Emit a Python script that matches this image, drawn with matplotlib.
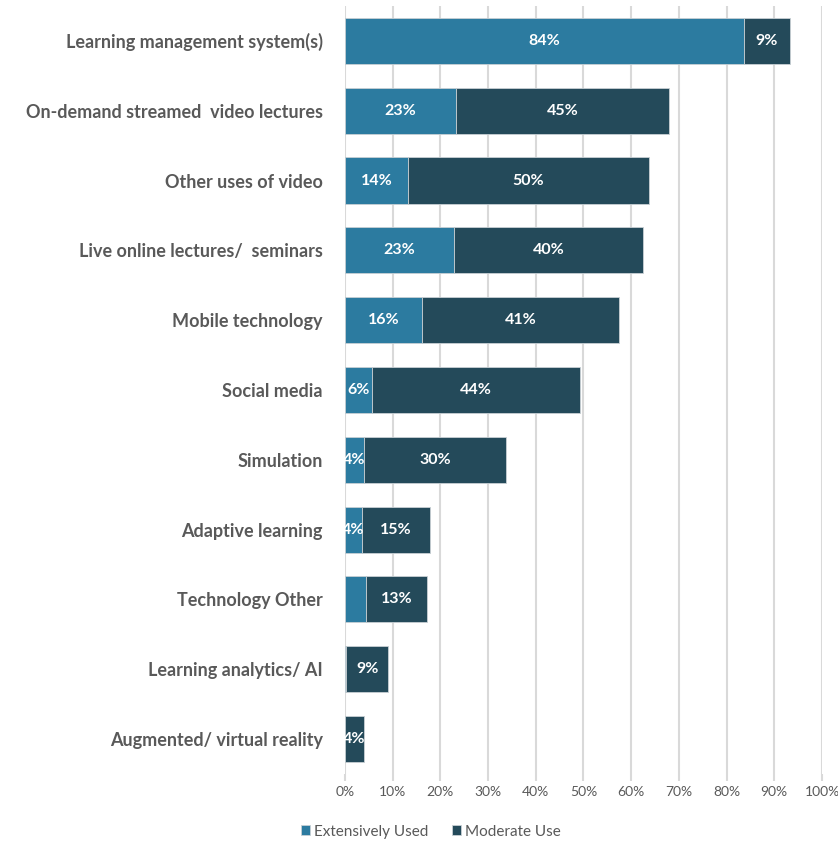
import matplotlib.pyplot as plt

plt.rcParams['font.family'] = ['Lato', 'DejaVu Sans']

categories = [
    'Learning management system(s)',
    'On-demand streamed  video lectures',
    'Other uses of video',
    'Live online lectures/  seminars',
    'Mobile technology',
    'Social media',
    'Simulation',
    'Adaptive learning',
    'Technology Other',
    'Learning analytics/ AI',
    'Augmented/ virtual reality',
]
extensive = [83.6, 23.3, 13.3, 22.9, 16.1, 5.7, 4.0, 3.6, 4.4, 0.3, 0.0]
moderate = [9.7, 44.6, 50.4, 39.6, 41.3, 43.6, 29.8, 14.2, 12.8, 8.7, 4.0]
extensive_labels = ['84%', '23%', '14%', '23%', '16%', '6%', '4%', '4%', '', '', '']
moderate_labels = ['9%', '45%', '50%', '40%', '41%', '44%', '30%', '15%', '13%', '9%', '4%']
ticks = list(range(0, 101, 10))

c_ext = '#2c7ba0'
c_mod = '#244a5a'
grey = '#595959'

fig = plt.figure(figsize=(8.38, 8.42), dpi=100)
ax = fig.add_axes([0.4117, 0.0808, 0.5692, 0.9121])

y = list(range(len(categories)))
ax.barh(y, extensive, height=0.66, color=c_ext, edgecolor='#c8d0d4', linewidth=0.6,
        label='Extensively Used', zorder=3)
ax.barh(y, moderate, left=extensive, height=0.66, color=c_mod, edgecolor='#c8d0d4',
        linewidth=0.6, label='Moderate Use', zorder=3)

for i in y:
    if extensive_labels[i]:
        ax.text(extensive[i] / 2, i, extensive_labels[i], ha='center', va='center',
                color='white', fontsize=11.5, fontweight='bold', zorder=4)
    if moderate_labels[i]:
        ax.text(extensive[i] + moderate[i] / 2, i, moderate_labels[i], ha='center',
                va='center', color='white', fontsize=11.5, fontweight='bold', zorder=4)

ax.set_xlim(0, 100)
ax.set_ylim(10.5, -0.5)
ax.set_xticks(ticks)
ax.set_xticklabels([f'{t}%' for t in ticks], color=grey, fontsize=10)
ax.set_yticks(y)
ax.set_yticklabels(categories, color=grey, fontsize=13, fontweight='bold')
ax.tick_params(axis='y', length=0, pad=16)
ax.tick_params(axis='x', length=5, color='#d9d9d9', width=1.5, pad=4)
ax.grid(axis='x', color='#d9d9d9', linewidth=1.5, zorder=0)
for s in ax.spines.values():
    s.set_visible(False)

ax.legend(loc='center', bbox_to_anchor=(0.18, -0.075), ncol=2, frameon=False,
          fontsize=11, handlelength=0.6, handleheight=0.6, handletextpad=0.3,
          columnspacing=1.5, labelcolor=grey, borderpad=0)

fig.savefig('out.png', dpi=100)
